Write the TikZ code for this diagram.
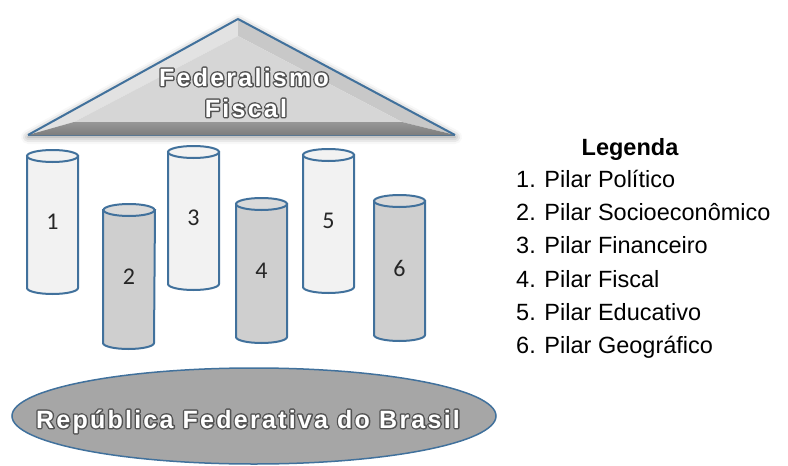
\documentclass[tikz,border=0pt]{standalone}
\usepackage{fontspec}
\setmainfont{Liberation Sans}
\newfontfamily\numfont{Carlito}
\newfontfamily\wordart[LetterSpace=9]{Liberation Sans Bold}
\usetikzlibrary{shadows.blur}

\definecolor{edge}{HTML}{41719C}
\definecolor{pilarlight}{HTML}{F2F2F2}
\definecolor{pilardark}{HTML}{CFCFCF}
\definecolor{pilardarktop}{HTML}{DADADA}
\definecolor{basefill}{HTML}{A6A6A6}
\definecolor{roofmid}{HTML}{D6D6D6}
\definecolor{roofleft}{HTML}{E2E2E2}
\definecolor{roofright}{HTML}{C8C8C8}
\definecolor{roofband}{HTML}{7D7D7D}
\definecolor{numcolor}{HTML}{262626}

% white letters with a dark rim: a thick stroked copy under a filled copy
\newcommand\rimtext[1]{%
  \rlap{\special{pdf:literal direct 0.32 0.32 0.32 RG 1 Tr 2.8 w 1 j}#1%
    \special{pdf:literal direct 0 Tr}}%
  \textcolor{white}{#1}}

% one pillar: x-left, x-right, top centre y, bottom centre y, body, cap, label, name
\newcommand\pilar[8]{%
  \path[pilarline, fill=#5]
    (#1,#3) -- (#1,#4) arc[start angle=180, end angle=0, x radius=25.5, y radius=6]
    -- (#2,#3) -- cycle;
  \path[pilarline, fill=#6] ({(#1+#2)/2},#3) ellipse[x radius=25.5, y radius=6];
  \node[numlabel] (#8) at ({(#1+#2)/2},{(#3+#4)/2}) {#7};
}

\tikzset{
  pilarline/.style={draw=edge, line width=2pt},
  numlabel/.style={font=\numfont\fontsize{24}{24}\selectfont, text=numcolor, inner sep=0pt},
  titletext/.style={font=\wordart\fontsize{25}{25}\selectfont, inner sep=0pt, anchor=base},
  legendtext/.style={font=\fontsize{23.5}{23.5}\selectfont, text=black, inner sep=0pt, anchor=base west},
}

\begin{document}
\begin{tikzpicture}[x=1pt, y=-1pt]
\useasboundingbox (0,0) rectangle (788,466);

% ---- roof ----
\coordinate (rA) at (238,19);
\coordinate (rB) at (28,135);
\coordinate (rC) at (455,135);
\coordinate (ra) at (238,36);
\coordinate (rb) at (74,122);
\coordinate (rc) at (402,122);
\path[fill=white, blur shadow={shadow xshift=0pt, shadow yshift=-2pt, shadow blur radius=7pt, shadow opacity=45}]
  (rA) -- (rB) -- (rC) -- cycle;
\fill[roofleft] (rA) -- (rB) -- (rb) -- (ra) -- cycle;
\fill[roofright] (rA) -- (rC) -- (rc) -- (ra) -- cycle;
\fill[roofmid] (ra) -- (rb) -- (rc) -- cycle;
\shade[top color=roofband!80!white, bottom color=roofband] (rb) -- (rc) -- (rC) -- (rB) -- cycle;
\draw[edge!60!gray, line width=0.6pt] (rB) -- (rC);
\draw[edge, line width=2pt, line join=miter] (rB) -- (rA) -- (rC);
\node[titletext] (roof1) at (244,86) {\rimtext{Federalismo}};
\node[titletext] (roof2) at (246,117) {\rimtext{Fiscal}};

% ---- pillars ----
\pilar{27}{78}{156}{288}{pilarlight}{pilarlight}{1}{p1}
\pilar{103}{155}{210}{343}{pilardark}{pilardarktop}{2}{p2}
\pilar{168}{219}{152}{284}{pilarlight}{pilarlight}{3}{p3}
\pilar{236}{287}{204}{337}{pilardark}{pilardarktop}{4}{p4}
\pilar{303}{354}{155}{287}{pilarlight}{pilarlight}{5}{p5}
\pilar{374}{425}{201}{335}{pilardark}{pilardarktop}{6}{p6}

% ---- base ----
\path[draw=edge, line width=1.5pt, fill=basefill] (254,416) ellipse[x radius=242, y radius=48];
\node[titletext] (base) at (248,428) {\rimtext{República Federativa do Brasil}};

% ---- legend ----
\node[font=\bfseries\fontsize{23.5}{23.5}\selectfont, inner sep=0pt, anchor=base] (leg) at (630,155) {Legenda};
\node[legendtext] (l1) at (516,187) {1. Pilar Político};
\node[legendtext] (l2) at (516,220) {2. Pilar Socioeconômico};
\node[legendtext] (l3) at (516,253) {3. Pilar Financeiro};
\node[legendtext] (l4) at (516,287) {4. Pilar Fiscal};
\node[legendtext] (l5) at (516,320) {5. Pilar Educativo};
\node[legendtext] (l6) at (516,353) {6. Pilar Geográfico};
\end{tikzpicture}
\end{document}
